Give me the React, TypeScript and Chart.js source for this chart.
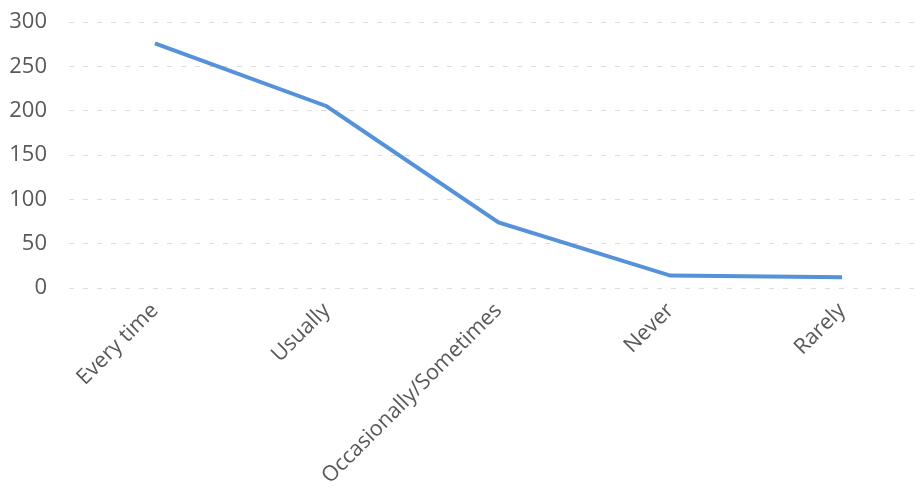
import React, { useEffect, useRef } from "react";
import { Chart, registerables } from "chart.js";

Chart.register(...registerables);

const categories = ["Every time", "Usually", "Occasionally/Sometimes", "Never", "Rarely"];
const responses = [276, 205, 74, 14, 12];
const yTicks = [0, 50, 100, 150, 200, 250, 300];

export default function App() {
  const ref = useRef<HTMLCanvasElement | null>(null);

  useEffect(() => {
    document.body.style.margin = "0";
    document.body.style.overflow = "hidden";
    document.body.style.background = "#ffffff";
    if (!ref.current) return;
    const chart = new Chart(ref.current, {
      type: "line",
      data: {
        labels: categories,
        datasets: [
          {
            data: responses,
            borderColor: "#5592d9",
            borderWidth: 4,
            pointRadius: 0,
            tension: 0,
            fill: false,
          },
        ],
      },
      options: {
        animation: false,
        responsive: false,
        maintainAspectRatio: false,
        layout: { padding: { top: 22, right: 12, left: 0, bottom: 0 } },
        plugins: { legend: { display: false }, tooltip: { enabled: false } },
        scales: {
          x: {
            type: "category",
            offset: true,
            grid: { display: false },
            border: { display: false },
            ticks: {
              autoSkip: false,
              maxRotation: 45,
              minRotation: 45,
              color: "#595959",
              padding: 2,
              font: { family: "'Open Sans'", size: 21.5 },
            },
            afterFit: (scale: any) => {
              scale.height = 200;
              scale.paddingLeft = 0;
              scale.paddingRight = 0;
              scale.paddingTop = 0;
              scale.paddingBottom = 0;
            },
          },
          y: {
            min: 0,
            max: 300,
            afterBuildTicks: (scale: any) => {
              scale.ticks = yTicks.map((v) => ({ value: v }));
            },
            grid: {
              color: "rgba(185,185,185,0.5)",
              lineWidth: 1,
              drawTicks: false,
            },
            border: { display: false, dash: [5, 9] },
            ticks: {
              color: "#595959",
              padding: 22,
              font: { family: "'Open Sans'", size: 22 },
            },
            afterFit: (scale: any) => {
              scale.width = 69;
              scale.paddingTop = 0;
              scale.paddingBottom = 0;
              scale.paddingLeft = 0;
              scale.paddingRight = 0;
            },
          },
        },
      },
    });
    return () => chart.destroy();
  }, []);

  return (
    <div style={{ width: 940, height: 488 }}>
      <canvas ref={ref} width={940} height={488} style={{ display: "block" }} />
    </div>
  );
}
